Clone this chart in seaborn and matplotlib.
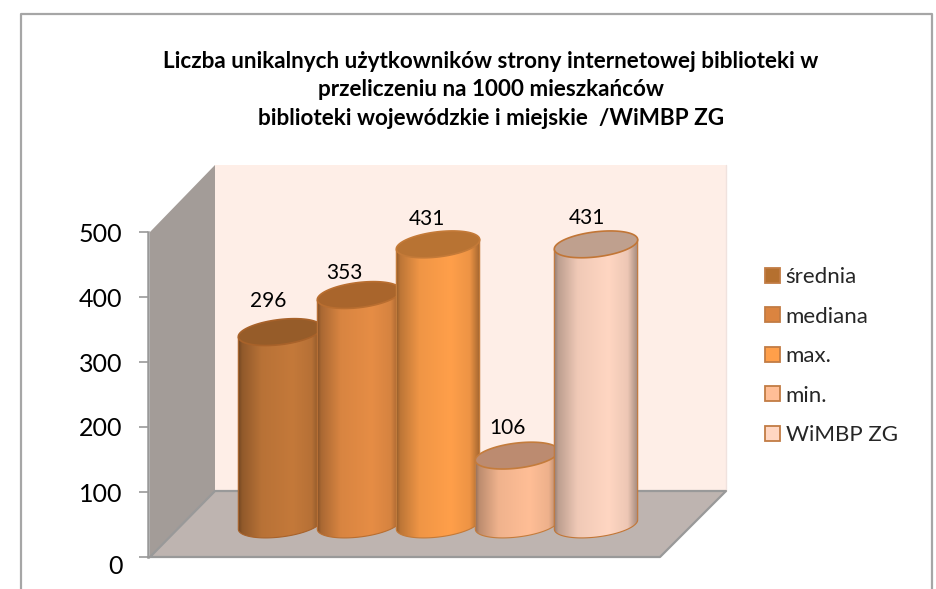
import numpy as np
import pandas as pd
import matplotlib
matplotlib.use('Agg')
import matplotlib.pyplot as plt
import seaborn as sns
from matplotlib.patches import Patch, Polygon
from matplotlib.transforms import ScaledTranslation

kategorie = ['średnia', 'mediana', 'max.', 'min.', 'WiMBP ZG']
wartosci = [296, 353, 431, 106, 431]
y_ticks = [0, 100, 200, 300, 400, 500]

title = ('Liczba unikalnych użytkowników strony internetowej biblioteki w\n'
         'przeliczeniu na 1000 mieszkańców\n'
         'biblioteki wojewódzkie i miejskie  /WiMBP ZG')

# colours of the bodies, the top faces and the outlines
body_colors = ['#C4793A', '#E68D45', '#FF9F4A', '#FFBE96', '#FFD6C2']
top_colors = ['#965C29', '#A9652C', '#B87333', '#BC8B70', '#BFA08E']
edge_colors = ['#A8622A', '#B96E30', '#C47A38', '#C47C3C', '#C27636']
legend_colors = ['#B5702F', '#DB8440', '#FF9F4A', '#FFBE96', '#FFD6C2']

# pixel geometry of the picture
W, H = 937, 589
PX_X = 79.0      # px per category
PX_Y = 0.65      # px per value
X0 = 280         # px centre of first bar
Y0 = 524.5       # px of value 0 on the bars plane
BAR_W = 84
ELL_B = 12.5
TILT = np.deg2rad(7)
label_dx = [-12, -15, -11, -10, -9]
label_dy = [31, 22, 25, 28, 26]

sns.set_theme(style='white')
plt.rcParams['font.family'] = ['Lato', 'DejaVu Sans']

fig = plt.figure(figsize=(W / 100, H / 100), dpi=100, facecolor='white')

# background in pixel coords: frame, walls and floor
bg = fig.add_axes([0, 0, 1, 1], zorder=0)
bg.set_xlim(0, W)
bg.set_ylim(H, 0)
bg.axis('off')
bg.plot([21, 21, 932, 932], [H, 14, 14, H], color='#A6A6A6', lw=1.6)
bg.add_patch(Polygon([(215, 165), (726, 165), (726, 491), (215, 491)], fc='#FEEEE7', ec='none'))
bg.plot([726, 726], [165, 491], color='#F0E2DE', lw=1)
bg.add_patch(Polygon([(150, 232), (215, 165), (215, 491), (150, 557)], fc='#A39C98', ec='none'))
bg.add_patch(Polygon([(150, 557), (215, 491), (726, 491), (660, 557)], fc='#BEB4B0', ec='none'))
bg.plot([150, 215, 726, 660, 148], [557, 491, 491, 557, 557], color='#999999', lw=1.6)
bg.text(491, 90, title, ha='center', va='center', fontsize=16.2, fontweight='bold',
        color='black', linespacing=1.47)

# the value axis sits on the front edge
ax_y = fig.add_axes([148 / W, (H - 557) / H, 20 / W, 325 / H], zorder=1)
ax_y.patch.set_alpha(0)
ax_y.set_ylim(0, 500)
ax_y.set_xticks([])
ax_y.set_yticks(y_ticks)
ax_y.tick_params(axis='y', left=True, length=6.5, width=1.2, color='#999999', pad=12,
                 labelsize=18, labelcolor='black')
sns.despine(ax=ax_y, bottom=True)
ax_y.spines['left'].set_color('#999999')
ax_y.spines['left'].set_linewidth(1.8)
# the zero label sits a little under its tick
zero_label = ax_y.get_yticklabels()[0]
zero_label.set_transform(zero_label.get_transform() + ScaledTranslation(0, -7 / 100, fig.dpi_scale_trans))

# bars plane, same scale as the axis but shifted back by the depth
ax = fig.add_axes([0, 0, 1, 1], zorder=2)
ax.patch.set_alpha(0)
df = pd.DataFrame({'kategoria': kategorie, 'wartosc': wartosci})
sns.barplot(data=df, x='kategoria', y='wartosc', hue='kategoria', order=kategorie,
            hue_order=kategorie, palette=body_colors, dodge=False, legend=False,
            width=BAR_W / PX_X, saturation=1, ax=ax)
xlim = (-X0 / PX_X, (W - X0) / PX_X)
ylim = ((Y0 - H) / PX_Y, Y0 / PX_Y)


def ellipse_arc(cx, cy, t):
    # tilted ellipse outline, in data units
    dx = BAR_W / 2 * np.cos(t) * np.cos(TILT) - ELL_B * np.sin(t) * np.sin(TILT)
    dy = BAR_W / 2 * np.cos(t) * np.sin(TILT) + ELL_B * np.sin(t) * np.cos(TILT)
    return cx + dx / PX_X, cy + dy / PX_Y


shade_x = np.linspace(0, 1, 200)
shade = np.interp(shade_x, [0, 0.05, 0.28, 0.65, 0.88, 1], [0.58, 0.74, 0.94, 1.0, 0.93, 0.64])

for i, rect in enumerate(ax.patches):
    cx = rect.get_x() + rect.get_width() / 2
    val = rect.get_height()
    z = 3 + 3 * i

    bx, by = ellipse_arc(cx, 0, np.linspace(np.pi, 2 * np.pi, 60))
    tx, ty = ellipse_arc(cx, val, np.array([0.0, np.pi]))
    outline = np.column_stack([np.r_[bx, tx], np.r_[by, ty]])
    body = Polygon(outline, closed=True, fc='none', ec=edge_colors[i], lw=0.8, zorder=z + 1)
    ax.add_patch(body)
    rect.set_clip_path(body)
    rect.set_zorder(z)

    rgb = np.array(matplotlib.colors.to_rgb(body_colors[i]))
    grad = (shade[:, None] * rgb)[None, :, :]
    x1 = rect.get_x()
    x2 = x1 + rect.get_width()
    im = ax.imshow(grad, extent=(x1, x2, by.min(), ty.max()), aspect='auto', origin='lower',
                   interpolation='bilinear', zorder=z)
    im.set_clip_path(body)

    top = Polygon(np.column_stack(ellipse_arc(cx, val, np.linspace(0, 2 * np.pi, 90))),
                  closed=True, fc=top_colors[i], ec=edge_colors[i], lw=1.2, zorder=z + 2)
    ax.add_patch(top)

    ax.annotate(str(wartosci[i]), (cx, val), xytext=(label_dx[i] * 0.72, label_dy[i] * 0.72),
                textcoords='offset points', ha='center', va='center', fontsize=15,
                color='black', zorder=30)

ax.set_xlim(xlim)
ax.set_ylim(ylim)
ax.axis('off')

handles = [Patch(fc=c, ec='#C27C44', lw=1.3, label=k) for c, k in zip(legend_colors, kategorie)]
leg = ax.legend(handles=handles, loc='upper left', bbox_to_anchor=(765, 267),
                bbox_transform=bg.transData, frameon=False, fontsize=16, handlelength=0.67,
                handleheight=0.67, handletextpad=0.26, labelspacing=0.88, borderpad=0, borderaxespad=0)
leg.set_zorder(40)

fig.savefig('out.png', dpi=100)
